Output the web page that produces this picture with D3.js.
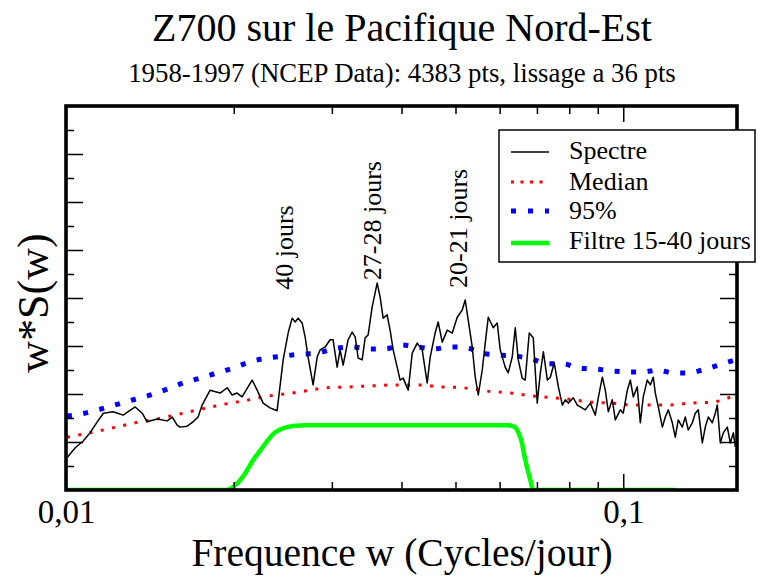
<!DOCTYPE html>
<html><head><meta charset="utf-8">
<script src="https://cdn.jsdelivr.net/npm/d3@7"></script>
<style>
html,body{margin:0;padding:0;background:#fff;}
svg{display:block;}
</style></head>
<body>
<svg id="chart" width="761" height="576"></svg>
<script>
// ---------- DATA ----------
const title = "Z700 sur le Pacifique Nord-Est";
const subtitle = "1958-1997 (NCEP Data): 4383 pts, lissage a 36 pts";
const xLabel = "Frequence w (Cycles/jour)";
const yLabel = "w*S(w)";

const xMajorTicks = [0.01, 0.1];
const xTickLabels = ["0,01", "0,1"];
const xMinorTicks = [0.02, 0.03, 0.04, 0.05, 0.06, 0.07, 0.08, 0.09];
const yMajorTicks = [1, 2, 3, 4, 5, 6, 7];
const yMinorTicks = [0.5, 1.5, 2.5, 3.5, 4.5, 5.5, 6.5, 7.5];

const spectreFreq = [0.01004,0.01039,0.01074,0.01104,0.01138,0.01167,0.01215,0.01266,0.01331,0.01370,0.01398,0.01457,0.01519,0.01551,0.01583,0.01602,0.01650,0.01690,0.01726,0.01755,0.01814,0.01890,0.01947,0.01987,0.02028,0.02070,0.02122,0.02158,0.02203,0.02258,0.02324,0.02392,0.02453,0.02504,0.02546,0.02578,0.02610,0.02653,0.02686,0.02719,0.02776,0.02823,0.02858,0.02918,0.02978,0.03015,0.03066,0.03104,0.03143,0.03208,0.03262,0.03303,0.03344,0.03400,0.03442,0.03485,0.03543,0.03617,0.03662,0.03708,0.03769,0.03816,0.03865,0.03929,0.03977,0.04027,0.04113,0.04181,0.04269,0.04357,0.04448,0.04504,0.04596,0.04655,0.04733,0.04832,0.04933,0.05036,0.05141,0.05204,0.05270,0.05358,0.05425,0.05493,0.05584,0.05654,0.05725,0.05844,0.05941,0.06015,0.06140,0.06216,0.06321,0.06400,0.06480,0.06587,0.06669,0.06781,0.06894,0.07009,0.07099,0.07189,0.07308,0.07398,0.07519,0.07648,0.07776,0.07872,0.07968,0.08136,0.08272,0.08374,0.08547,0.08728,0.08909,0.09019,0.09172,0.09286,0.09401,0.09556,0.09677,0.09879,0.10000,0.10169,0.10297,0.10424,0.10597,0.10730,0.10862,0.11042,0.11182,0.11322,0.11416,0.11558,0.11753,0.11898,0.12045,0.12247,0.12399,0.12553,0.12763,0.12921,0.13082,0.13302,0.13467,0.13636,0.13864,0.14035,0.14212,0.14447,0.14628,0.14750,0.14933,0.15120,0.15373,0.15563,0.15760,0.15890];
const spectreVal = [0.67,0.88,1.02,1.19,1.42,1.60,1.63,1.56,1.73,1.60,1.42,1.48,1.44,1.52,1.35,1.31,1.33,1.42,1.52,1.77,2.08,2.02,2.13,1.98,2.02,1.94,2.15,2.29,2.08,1.81,1.71,1.65,2.71,3.27,3.58,3.50,3.58,3.48,3.19,2.77,2.19,2.77,2.92,2.98,3.13,3.13,2.56,2.92,2.60,3.13,3.29,3.19,2.75,2.71,3.17,3.23,3.81,4.31,4.02,3.58,3.65,3.33,2.92,2.56,2.29,2.33,2.08,2.85,3.06,2.92,2.23,2.77,3.27,3.50,3.08,3.33,3.27,3.60,3.75,3.96,3.54,2.98,2.35,1.98,2.50,3.06,3.60,3.38,3.48,2.92,2.56,2.44,2.77,3.38,2.71,2.33,2.29,3.27,3.17,1.81,2.44,2.88,2.29,2.35,2.65,2.15,1.77,1.88,1.81,1.92,1.77,1.73,1.67,1.81,1.56,1.92,2.35,2.08,1.63,1.88,1.46,1.67,1.60,2.08,2.29,1.94,2.15,1.40,1.94,2.29,2.19,2.35,2.02,1.73,1.31,1.52,1.67,1.40,1.10,1.46,1.31,1.52,1.25,1.40,1.60,1.67,0.98,1.31,1.52,1.40,1.60,1.77,0.98,1.19,1.31,0.98,1.19,0.90];

const medianFreq = [0.01004,0.01100,0.01209,0.01331,0.01457,0.01595,0.01755,0.01930,0.02133,0.02314,0.02546,0.02941,0.03262,0.03543,0.03897,0.04287,0.04694,0.05162,0.05701,0.06278,0.06866,0.07872,0.08800,0.09556,0.10424,0.11995,0.13190,0.14447,0.15760];
const medianVal = [1.10,1.19,1.29,1.40,1.48,1.58,1.69,1.79,1.88,1.96,2.02,2.13,2.15,2.17,2.19,2.19,2.15,2.13,2.06,2.02,1.96,1.90,1.83,1.81,1.77,1.77,1.81,1.83,1.96];

const p95Freq = [0.01004,0.01079,0.01158,0.01240,0.01320,0.01419,0.01519,0.01623,0.01740,0.01867,0.01994,0.02140,0.02295,0.02453,0.02643,0.02823,0.03015,0.03262,0.03485,0.03740,0.03994,0.04269,0.04559,0.04913,0.05248,0.05584,0.05990,0.06400,0.06830,0.07338,0.07808,0.08306,0.08909,0.09572,0.10169,0.10862,0.11558,0.12247,0.13109,0.13864,0.14628,0.15437,0.15890];
const p95Val = [1.54,1.60,1.69,1.79,1.88,1.98,2.10,2.23,2.33,2.44,2.54,2.67,2.75,2.79,2.83,2.85,2.94,2.98,2.94,2.94,3.02,2.98,2.94,2.98,2.96,2.85,2.81,2.79,2.73,2.63,2.63,2.54,2.52,2.48,2.46,2.46,2.50,2.44,2.44,2.50,2.58,2.67,2.71];

const filtreFreq = [0.01000,0.01940,0.01975,0.02030,0.02080,0.02169,0.02233,0.02296,0.02355,0.02422,0.02494,0.02578,0.02700,0.06200,0.06290,0.06395,0.06474,0.06560,0.06669,0.06809,0.06894,0.12399];
const filtreVal = [0,0,0.03,0.14,0.29,0.63,0.83,1.02,1.17,1.26,1.31,1.34,1.35,1.35,1.34,1.31,1.21,1.04,0.63,0.21,0,0];

const annotations = ["40 jours", "27-28 jours", "20-21 jours"];
const annotFreq = [0.0255, 0.0367, 0.0525];
const annotVal = [4.17, 4.37, 4.21];

const legendLabels = ["Spectre", "Median", "95%", "Filtre 15-40 jours"];

// ---------- CHART ----------
const FONT = "'Liberation Serif','Times New Roman',Times,serif";
const svg = d3.select("#chart");
const X0 = 66, X1 = 737, Y0 = 490, Y1 = 106;
const x = d3.scaleLog().domain([0.01, 0.16]).range([X0, X1]);
const y = d3.scaleLinear().domain([0, 8]).range([Y0, Y1]);

svg.append("rect").attr("width", 761).attr("height", 576).attr("fill", "#fff");

function txt(sel, size) {
  return sel.attr("font-family", FONT).style("font-family", FONT).style("font-size", size + "px").attr("fill", "#000");
}

txt(svg.append("text").attr("x", 402).attr("y", 41).attr("text-anchor", "middle"), 40).text(title);
txt(svg.append("text").attr("x", 402).attr("y", 82).attr("text-anchor", "middle"), 26.8).text(subtitle);

svg.append("defs").append("clipPath").attr("id", "clip")
  .append("rect").attr("x", X0).attr("y", Y1).attr("width", X1 - X0).attr("height", Y0 - Y1);

const plot = svg.append("g").attr("clip-path", "url(#clip)");

function series(fr, vals) { return fr.map((f, i) => [f, vals[i]]); }
const smoothLine = d3.line().x(d => x(d[0])).y(d => y(d[1])).curve(d3.curveMonotoneX);
const rawLine = d3.line().x(d => x(d[0])).y(d => y(d[1]));

plot.append("path").datum(series(filtreFreq, filtreVal))
  .attr("fill", "none").attr("stroke", "#00ff00").attr("stroke-width", 4.5)
  .attr("d", smoothLine);

plot.append("path").datum(series(medianFreq, medianVal))
  .attr("fill", "none").attr("stroke", "#ff0000").attr("stroke-width", 3)
  .attr("stroke-dasharray", "3,8.5")
  .attr("d", smoothLine);

plot.append("path").datum(series(p95Freq, p95Val))
  .attr("fill", "none").attr("stroke", "#0000ff").attr("stroke-width", 5)
  .attr("stroke-dasharray", "5,11.5")
  .attr("d", smoothLine);

plot.append("path").datum(series(spectreFreq, spectreVal))
  .attr("fill", "none").attr("stroke", "#000").attr("stroke-width", 1.5)
  .attr("stroke-linejoin", "round")
  .attr("d", rawLine);

// Axes with inward ticks
function styleAxis(g) {
  g.select(".domain").remove();
  g.selectAll(".tick line").attr("stroke", "#000").attr("stroke-width", 1.5);
}
const fmt = d => xTickLabels[xMajorTicks.indexOf(d)];
svg.append("g").attr("transform", `translate(0,${Y0})`)
  .call(d3.axisBottom(x).tickValues(xMajorTicks).tickSize(-16).tickPadding(10).tickFormat(fmt))
  .call(styleAxis)
  .call(g => g.selectAll("text").attr("fill", "#000").attr("font-family", FONT).style("font-family", FONT).style("font-size", "33px"));
svg.append("g").attr("transform", `translate(0,${Y0})`)
  .call(d3.axisBottom(x).tickValues(xMinorTicks).tickSize(-8).tickFormat(""))
  .call(styleAxis);
svg.append("g").attr("transform", `translate(0,${Y1})`)
  .call(d3.axisTop(x).tickValues(xMajorTicks).tickSize(-16).tickFormat(""))
  .call(styleAxis);
svg.append("g").attr("transform", `translate(0,${Y1})`)
  .call(d3.axisTop(x).tickValues(xMinorTicks).tickSize(-8).tickFormat(""))
  .call(styleAxis);
svg.append("g").attr("transform", `translate(${X0},0)`)
  .call(d3.axisLeft(y).tickValues(yMajorTicks).tickSize(-17).tickFormat(""))
  .call(styleAxis);
svg.append("g").attr("transform", `translate(${X0},0)`)
  .call(d3.axisLeft(y).tickValues(yMinorTicks).tickSize(-8).tickFormat(""))
  .call(styleAxis);
svg.append("g").attr("transform", `translate(${X1},0)`)
  .call(d3.axisRight(y).tickValues(yMajorTicks).tickSize(-17).tickFormat(""))
  .call(styleAxis);
svg.append("g").attr("transform", `translate(${X1},0)`)
  .call(d3.axisRight(y).tickValues(yMinorTicks).tickSize(-8).tickFormat(""))
  .call(styleAxis);

svg.append("rect").attr("x", X0).attr("y", Y1).attr("width", X1 - X0).attr("height", Y0 - Y1)
  .attr("fill", "none").attr("stroke", "#000").attr("stroke-width", 3.6);

// axis labels
txt(svg.append("text").attr("x", 402).attr("y", 566).attr("text-anchor", "middle"), 39.5).text(xLabel);
txt(svg.append("text").attr("transform", "translate(48,303) rotate(-90)").attr("text-anchor", "middle"), 44).text(yLabel);

// annotations (rotated)
annotations.forEach((t, i) => {
  txt(svg.append("text")
    .attr("transform", `translate(${x(annotFreq[i])},${y(annotVal[i])}) rotate(-90)`)
    .attr("text-anchor", "start"), 26).text(t);
});

// legend
const lg = svg.append("g");
lg.append("rect").attr("x", 499).attr("y", 130).attr("width", 256).attr("height", 132)
  .attr("fill", "#fff").attr("stroke", "#000").attr("stroke-width", 1.5);
const legStyles = [
  {stroke: "#000", w: 1.5, dash: null},
  {stroke: "#ff0000", w: 3, dash: "3,6.5"},
  {stroke: "#0000ff", w: 5, dash: "5,12"},
  {stroke: "#00ff00", w: 4.5, dash: null}
];
const legLineY = [152, 182, 211, 243];
const legTextY = [159, 190, 219, 249];
legendLabels.forEach((t, i) => {
  lg.append("line").attr("x1", 511).attr("x2", 549).attr("y1", legLineY[i]).attr("y2", legLineY[i])
    .attr("stroke", legStyles[i].stroke).attr("stroke-width", legStyles[i].w)
    .attr("stroke-dasharray", legStyles[i].dash);
  txt(lg.append("text").attr("x", 569).attr("y", legTextY[i]), 26).text(t);
});
</script>
</body></html>
